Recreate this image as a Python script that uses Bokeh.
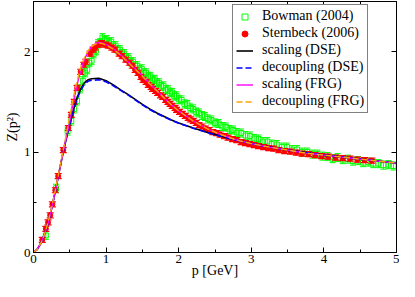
from bokeh.plotting import figure
from bokeh.models import (Range1d, LinearAxis, Legend, LegendItem,
                          FixedTicker, ColumnDataSource, CustomJSTickFormatter)
from bokeh.embed import file_html
from bokeh.resources import INLINE

# ---------------- data ----------------
x_ticks = [0, 1, 2, 3, 4, 5]
x_minor = [0.5, 1.5, 2.5, 3.5, 4.5]
y_ticks = [0, 1, 2]
y_minor = [0.5, 1.5]

# Bowman (2004) lattice data
bow_p = [0.17, 0.31, 0.47, 0.52, 0.56, 0.60, 0.64, 0.68, 0.71, 0.74, 0.77, 0.80,
         0.83, 0.86, 0.89, 0.92, 0.95, 0.98, 1.01, 1.04, 1.07, 1.10, 1.13, 1.16,
         1.19, 1.22, 1.25, 1.28, 1.31, 1.34, 1.37, 1.40, 1.43, 1.46, 1.49, 1.52,
         1.55, 1.58, 1.61, 1.64, 1.67, 1.70, 1.73, 1.76, 1.79, 1.82, 1.85, 1.88,
         1.91, 1.94, 1.97, 2.00, 2.04, 2.08, 2.12, 2.16, 2.20, 2.24, 2.28, 2.32,
         2.36, 2.40, 2.45, 2.50, 2.55, 2.60, 2.65, 2.70, 2.75, 2.80, 2.86, 2.92,
         2.98, 3.04, 3.10, 3.16, 3.22, 3.28, 3.35, 3.42, 3.49, 3.56, 3.63, 3.70,
         3.77, 3.84, 3.91, 3.98, 4.05, 4.12, 4.19, 4.26, 4.33, 4.40, 4.47, 4.54,
         4.61, 4.68, 4.75, 4.82, 4.89, 4.96]
bow_z = [0.17, 0.64, 1.21, 1.31, 1.43, 1.51, 1.63, 1.71, 1.79, 1.82, 1.89, 1.91,
         1.98, 2.01, 2.08, 2.09, 2.14, 2.11, 2.12, 2.09, 2.10, 2.06, 2.06, 2.02,
         2.02, 1.98, 1.98, 1.94, 1.94, 1.90, 1.90, 1.86, 1.86, 1.82, 1.83, 1.79,
         1.79, 1.75, 1.755, 1.72, 1.725, 1.69, 1.69, 1.655, 1.66, 1.62, 1.625, 1.59,
         1.595, 1.56, 1.56, 1.525, 1.52, 1.48, 1.475, 1.44, 1.43, 1.40, 1.39, 1.365,
         1.355, 1.33, 1.32, 1.29, 1.285, 1.255, 1.25, 1.225, 1.22, 1.195, 1.19, 1.165,
         1.16, 1.135, 1.13, 1.105, 1.105, 1.08, 1.075, 1.05, 1.05, 1.025, 1.025, 1.00,
         1.00, 0.98, 0.98, 0.96, 0.955, 0.935, 0.945, 0.925, 0.93, 0.91, 0.915, 0.895,
         0.90, 0.885, 0.885, 0.87, 0.875, 0.862]
bow_err = 0.04

# Sternbeck (2006) lattice data
ste_p = [0.12, 0.17, 0.20, 0.23, 0.26, 0.30, 0.34, 0.41, 0.48, 0.52, 0.56, 0.60,
         0.65, 0.69, 0.72, 0.78, 0.82, 0.85, 0.90, 0.94, 0.99, 1.03, 1.08, 1.12,
         1.18, 1.22, 1.27, 1.32, 1.36, 1.40, 1.44, 1.48, 1.51, 1.55, 1.58, 1.62,
         1.64, 1.68, 1.71, 1.75, 1.78, 1.82, 1.85, 1.88, 1.91, 1.95, 1.97, 2.01,
         2.05, 2.09, 2.13, 2.16, 2.20, 2.24, 2.28, 2.32, 2.37, 2.42, 2.47, 2.52,
         2.57, 2.63, 2.68, 2.74, 2.80, 2.86, 2.92, 2.98, 3.04, 3.10, 3.17, 3.24,
         3.31, 3.38, 3.46, 3.54, 3.62, 3.70, 3.79, 3.88, 3.97, 4.06, 4.16, 4.26,
         4.36, 4.46, 4.56, 4.66]
ste_z = [0.125, 0.236, 0.30, 0.37, 0.48, 0.62, 0.76, 1.02, 1.24, 1.37, 1.50, 1.64,
         1.80, 1.87, 1.90, 1.98, 2.02, 2.04, 2.07, 2.085, 2.07, 2.06, 2.04, 2.02,
         1.98, 1.955, 1.92, 1.89, 1.86, 1.82, 1.79, 1.75, 1.72, 1.70, 1.67, 1.65,
         1.63, 1.61, 1.59, 1.565, 1.55, 1.52, 1.50, 1.48, 1.46, 1.44, 1.42, 1.40,
         1.38, 1.36, 1.34, 1.325, 1.31, 1.29, 1.27, 1.255, 1.235, 1.22, 1.20, 1.19,
         1.175, 1.16, 1.145, 1.13, 1.12, 1.10, 1.09, 1.08, 1.07, 1.06, 1.05, 1.04,
         1.035, 1.02, 1.01, 1.005, 0.995, 0.985, 0.98, 0.97, 0.96, 0.955, 0.945, 0.94,
         0.935, 0.925, 0.92, 0.915]
ste_err = 0.025

# DSE curves
dse_p = [0, 0.05, 0.1, 0.15, 0.2, 0.25, 0.3, 0.35, 0.4, 0.45, 0.5, 0.55, 0.6,
         0.65, 0.7, 0.75, 0.8, 0.9, 1.0, 1.1, 1.2, 1.3, 1.4, 1.5, 1.6, 1.7, 1.8,
         1.9, 2.0, 2.2, 2.4, 2.6, 2.8, 3.0, 3.25, 3.5, 3.75, 4.0, 4.25, 4.5, 4.75, 5.0]
dse_scaling = [0, 0.03, 0.09, 0.18, 0.29, 0.44, 0.61, 0.79, 0.97, 1.13, 1.28, 1.42,
               1.54, 1.63, 1.69, 1.72, 1.73, 1.735, 1.71, 1.67, 1.62, 1.575, 1.525,
               1.475, 1.43, 1.39, 1.355, 1.32, 1.29, 1.24, 1.195, 1.155, 1.12, 1.085,
               1.05, 1.02, 0.995, 0.97, 0.95, 0.93, 0.91, 0.89]
dse_decoupling = [0, 0.03, 0.09, 0.18, 0.29, 0.44, 0.61, 0.79, 0.97, 1.13, 1.275, 1.41,
                  1.53, 1.615, 1.675, 1.705, 1.715, 1.72, 1.70, 1.66, 1.615, 1.57, 1.52,
                  1.47, 1.425, 1.385, 1.35, 1.317, 1.287, 1.238, 1.193, 1.153, 1.118,
                  1.084, 1.05, 1.02, 0.995, 0.97, 0.95, 0.93, 0.91, 0.89]

# FRG curves
frg_p = [0, 0.05, 0.1, 0.15, 0.2, 0.25, 0.3, 0.35, 0.4, 0.45, 0.5, 0.55, 0.6, 0.65,
         0.7, 0.75, 0.8, 0.85, 0.9, 0.95, 1.0, 1.1, 1.2, 1.3, 1.4, 1.5, 1.6, 1.7,
         1.8, 1.9, 2.0, 2.2, 2.4, 2.6, 2.8, 3.0, 3.25, 3.5, 3.75, 4.0, 4.25, 4.5,
         4.75, 5.0]
frg_scaling = [0, 0.03, 0.09, 0.18, 0.29, 0.44, 0.61, 0.79, 0.97, 1.14, 1.31, 1.50,
               1.67, 1.81, 1.92, 2.00, 2.05, 2.08, 2.09, 2.085, 2.07, 2.03, 1.97, 1.90,
               1.83, 1.76, 1.68, 1.61, 1.54, 1.47, 1.41, 1.31, 1.23, 1.17, 1.12, 1.085,
               1.05, 1.02, 0.99, 0.97, 0.95, 0.93, 0.91, 0.89]
frg_decoupling = [0, 0.03, 0.09, 0.18, 0.30, 0.45, 0.62, 0.80, 0.99, 1.17, 1.36, 1.55,
                  1.71, 1.84, 1.94, 2.01, 2.05, 2.075, 2.085, 2.08, 2.065, 2.025, 1.965,
                  1.895, 1.825, 1.755, 1.68, 1.61, 1.54, 1.47, 1.41, 1.31, 1.23, 1.17,
                  1.12, 1.085, 1.05, 1.02, 0.99, 0.97, 0.95, 0.93, 0.91, 0.89]

# ---------------- figure ----------------
SERIF = "'Liberation Serif', 'Times New Roman', serif"
p = figure(width=399, height=281, x_range=Range1d(0, 5), y_range=Range1d(0, 2.5),
           output_backend="svg", toolbar_location=None,
           min_border_left=33, min_border_right=3, min_border_top=1,
           min_border_bottom=29)
p.grid.visible = False
p.outline_line_color = "black"
p.outline_line_width = 1
p.background_fill_color = "white"
p.border_fill_color = "white"

p.xaxis.ticker = FixedTicker(ticks=x_ticks, minor_ticks=x_minor)
p.yaxis.ticker = FixedTicker(ticks=y_ticks, minor_ticks=y_minor)
for ax in (p.xaxis[0], p.yaxis[0]):
    ax.axis_line_color = "black"
    ax.major_tick_line_color = "black"
    ax.minor_tick_line_color = "black"
    ax.major_tick_in = 5
    ax.major_tick_out = 0
    ax.minor_tick_in = 3
    ax.minor_tick_out = 0
    ax.major_label_text_font = SERIF
    ax.major_label_text_font_size = "13px"
    ax.major_label_text_color = "black"
    ax.major_label_standoff = 3
    ax.axis_label_text_font = SERIF
    ax.axis_label_text_font_size = "14px"
    ax.axis_label_text_font_style = "normal"
    ax.axis_label_text_color = "black"

p.xaxis.axis_label = "p [GeV]"
p.xaxis.major_label_standoff = 2
p.xaxis.axis_label_standoff = -3
p.yaxis.axis_label = "Z(p²)"
p.yaxis.axis_label_standoff = 1

blank = CustomJSTickFormatter(code="return ''")
top = LinearAxis(ticker=FixedTicker(ticks=x_ticks, minor_ticks=x_minor), formatter=blank)
right = LinearAxis(ticker=FixedTicker(ticks=y_ticks, minor_ticks=y_minor), formatter=blank)
for ax in (top, right):
    ax.axis_line_color = "black"
    ax.major_tick_line_color = "black"
    ax.minor_tick_line_color = "black"
    ax.major_tick_in = 5
    ax.major_tick_out = 0
    ax.minor_tick_in = 3
    ax.minor_tick_out = 0
    ax.major_label_text_font_size = "1px"
    ax.major_label_standoff = 0
p.add_layout(top, "above")
p.add_layout(right, "right")

# Bowman
bsrc = ColumnDataSource(dict(x=bow_p, y=bow_z,
                             lo=[z - bow_err for z in bow_z],
                             hi=[z + bow_err for z in bow_z]))
p.segment(x0="x", y0="lo", x1="x", y1="hi", source=bsrc, line_color="#00ff00", line_width=1)
p.scatter(x="x", y="lo", source=bsrc, marker="dash", size=6, line_color="#00ff00")
p.scatter(x="x", y="hi", source=bsrc, marker="dash", size=6, line_color="#00ff00")
r_bow = p.scatter(x="x", y="y", source=bsrc, marker="square", size=5,
                  fill_color=None, line_color="#00ff00", line_width=1)

# Sternbeck
ssrc = ColumnDataSource(dict(x=ste_p, y=ste_z,
                             lo=[z - ste_err for z in ste_z],
                             hi=[z + ste_err for z in ste_z]))
p.segment(x0="x", y0="lo", x1="x", y1="hi", source=ssrc, line_color="#ff0000", line_width=1)
p.scatter(x="x", y="lo", source=ssrc, marker="dash", size=7, line_color="#ff0000", line_width=1.2)
p.scatter(x="x", y="hi", source=ssrc, marker="dash", size=7, line_color="#ff0000", line_width=1.2)
r_ste = p.scatter(x="x", y="y", source=ssrc, marker="circle", size=5,
                  fill_color="#ff0000", line_color="#ff0000")

r1 = p.line(dse_p, dse_scaling, line_color="black", line_width=1.6)
r2 = p.line(dse_p, dse_decoupling, line_color="#0000ff", line_width=1.6, line_dash="6 3")
r3 = p.line(frg_p, frg_scaling, line_color="#ff00ff", line_width=1.4)
r4 = p.line(frg_p, frg_decoupling, line_color="#ffa500", line_width=1.4, line_dash="6 3")

legend = Legend(items=[
    LegendItem(label="Bowman (2004)", renderers=[r_bow]),
    LegendItem(label="Sternbeck (2006)", renderers=[r_ste]),
    LegendItem(label="scaling (DSE)", renderers=[r1]),
    LegendItem(label="decoupling (DSE)", renderers=[r2]),
    LegendItem(label="scaling (FRG)", renderers=[r3]),
    LegendItem(label="decoupling (FRG)", renderers=[r4]),
], location=(199, 139))
legend.border_line_color = "black"
legend.border_line_width = 1
legend.background_fill_color = "white"
legend.background_fill_alpha = 1
legend.label_text_font = "Times"
legend.label_text_font_size = "14px"
legend.label_text_color = "black"
legend.glyph_width = 17
legend.glyph_height = 15
legend.label_height = 15
legend.spacing = 1
legend.padding = 3
legend.margin = 0
legend.label_standoff = 9
p.add_layout(legend)

open("out.html", "w").write(file_html(p, INLINE))
